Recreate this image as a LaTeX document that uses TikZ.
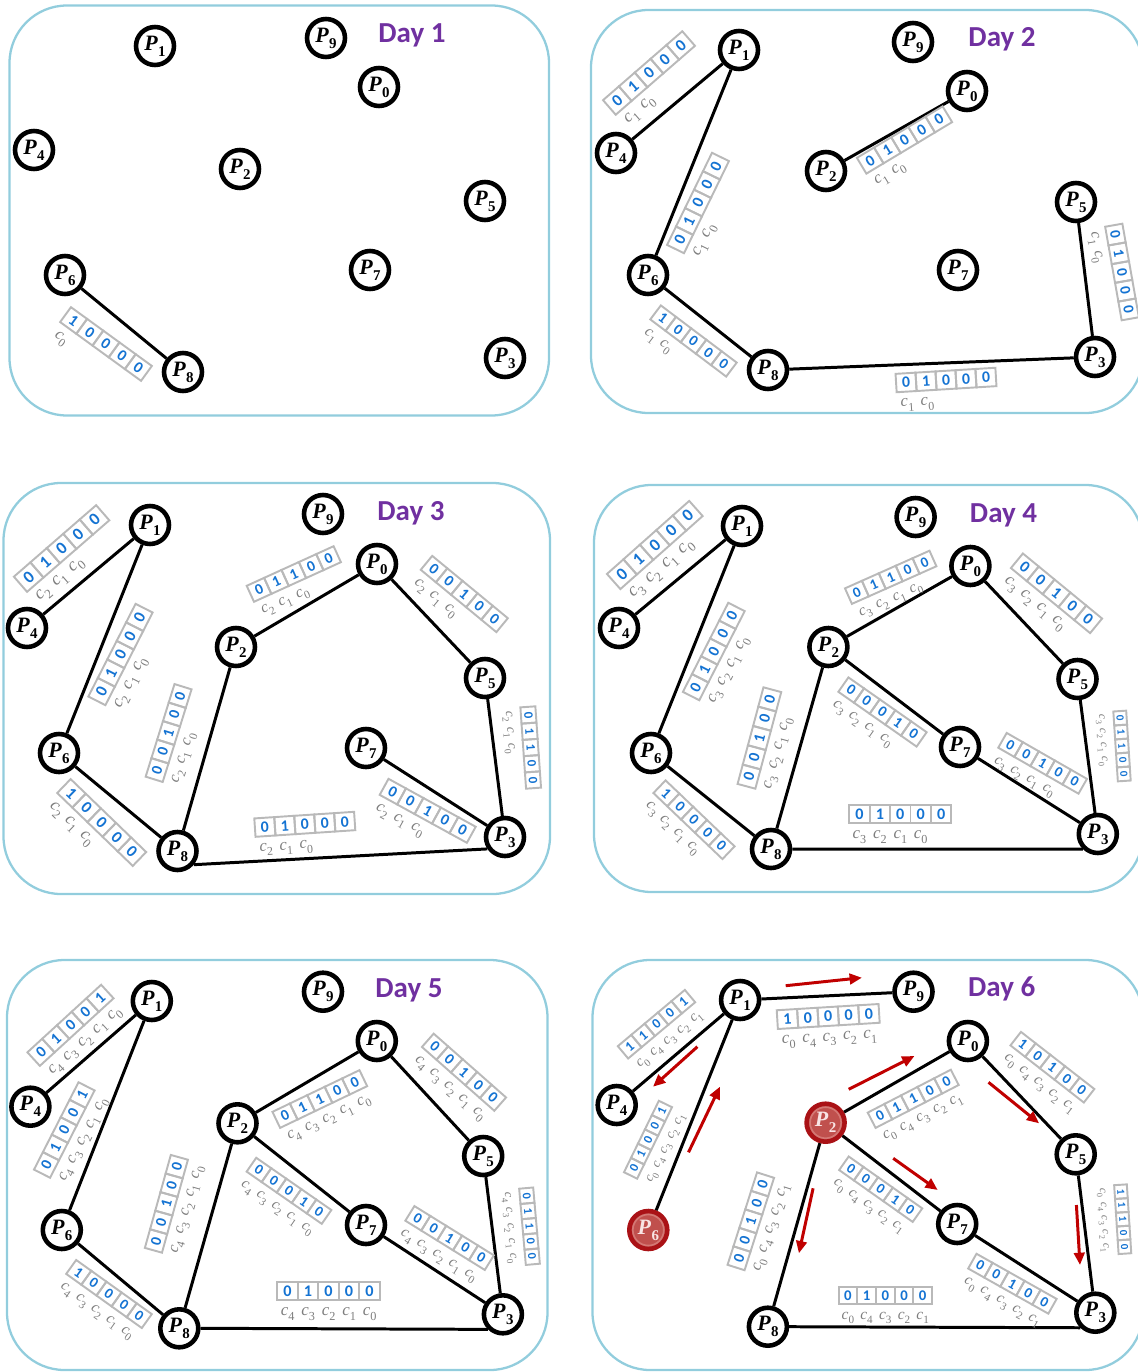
\documentclass[tikz,border=0pt]{standalone}
\usepackage{fontspec}
\newfontfamily\calib{Carlito}
\newfontfamily\camb{Liberation Serif}
\usetikzlibrary{arrows.meta}
\definecolor{panelblue}{RGB}{146,205,221}
\definecolor{daypurple}{RGB}{112,48,160}
\definecolor{bitblue}{RGB}{20,115,210}
\definecolor{cellgray}{RGB}{185,185,185}
\definecolor{labgray}{RGB}{125,125,125}
\definecolor{reddark}{RGB}{170,18,22}
\definecolor{redfill}{RGB}{192,80,77}
\definecolor{redring}{RGB}{212,120,116}
\definecolor{redtext}{RGB}{248,228,228}
\definecolor{arrowred}{RGB}{192,0,0}
\newcommand\pname[1]{{\camb\bfseries\itshape P}\kern0.02em\raisebox{-0.28em}{\fontsize{8.5}{8.5}\selectfont\camb\bfseries #1}}
\newcommand\clab[1]{{\camb\itshape c}\raisebox{-0.3em}{\fontsize{\ssz}{\ssz}\selectfont\camb #1}}
\tikzset{
 panel/.style={draw=panelblue, line width=1.3pt, rounded corners=1.15cm},
 pnode/.style={circle, draw=black, line width=2.6pt, fill=white, minimum size=0.76cm, inner sep=0pt, font=\fontsize{12.5}{12.5}\selectfont},
 rnode/.style={pnode, draw=reddark, fill=redfill, text=redtext},
 redinner/.style={draw=redring, line width=0.9pt},
 link/.style={line width=1.7pt, black},
 daylabel/.style={text=daypurple, font=\calib\bfseries\fontsize{16.5}{16.5}\selectfont},
 bitcell/.style={draw=cellgray, line width=1.1pt},
 bitdigit/.style={text=bitblue, inner sep=0pt, font=\calib\bfseries\fontsize{\bfsz}{\bfsz}\selectfont},
 bitlabel/.style={text=labgray, inner sep=0pt, font=\fontsize{\lsz}{\lsz}\selectfont},
 redarrow/.style={draw=arrowred, line width=1.7pt, -{Triangle[length=7pt,width=6pt]}},
}
% #1 cx, #2 cy, #3 angle, #4 cell (px), #5 digits, #6 label indices
\newcommand\bitarr[6]{%
\begin{scope}[shift={(#1,#2)}, rotate=#3]
 \pgfmathsetmacro\bfsz{0.45*#4}
 \pgfmathsetmacro\lsz{0.47*#4}
 \pgfmathsetmacro\ssz{0.34*#4}
 \foreach \dg [count=\ci] in {#5} {
   \pgfmathsetmacro\xx{(\ci-3)*#4}
   \draw[bitcell] (\xx-#4/2, -#4*0.46) rectangle (\xx+#4/2, #4*0.46);
   \node[bitdigit, transform shape] at (\xx,0) {\dg};
 }
 \foreach \lab [count=\ci] in {#6} {
   \pgfmathsetmacro\xx{(\ci-3)*#4}
   \pgfmathsetmacro\yy{#4*0.46+13.5}
   \node[bitlabel, transform shape] at (\xx,\yy) {\clab{\lab}};
 }
\end{scope}}
\begin{document}
\begin{tikzpicture}[x=0.02cm, y=-0.02cm]
\useasboundingbox (0,0) rectangle (1138,1372);
% ---------------- Panel 1 ----------------
\draw[panel] (9.5,5.5) rectangle (549,415.5);
\node[daylabel] (dayA) at (412,35) {Day 1};
\foreach \n/\x/\y in {1/155/46, 9/326/38, 0/379/87, 4/34/150, 2/240/169, 5/485/201, 6/65/275, 7/370/270, 8/183/372, 3/505/358}
  \node[pnode] (A\n) at (\x,\y) {\pname{\n}};
\draw[link] (A6) -- (A8);
\bitarr{106}{344}{-36}{20}{1,0,0,0,0}{0}
% ---------------- Panel 2 ----------------
\draw[panel] (591,10) rectangle (1143,413);
\node[daylabel] (dayB) at (1002,39) {Day 2};
\foreach \n/\x/\y in {1/739/50, 9/913/42, 0/967/91, 4/616/153, 2/826/171, 5/1076/202, 6/648/275, 7/958/270, 8/768/370, 3/1095/357}
  \node[pnode] (B\n) at (\x,\y) {\pname{\n}};
\draw[link] (B4) -- (B1);
\draw[link] (B1) -- (B6);
\draw[link] (B6) -- (B8);
\draw[link] (B8) -- (B3);
\draw[link] (B3) -- (B5);
\draw[link] (B2) -- (B0);
\bitarr{649}{73}{41}{21}{0,1,0,0,0}{1,0}
\bitarr{698}{203}{64}{20.5}{0,1,0,0,0}{1,0}
\bitarr{693.5}{341}{-37}{19}{1,0,0,0,0}{1,0}
\bitarr{904.5}{140}{31}{20}{0,1,0,0,0}{1,0}
\bitarr{946}{380}{3.5}{20}{0,1,0,0,0}{1,0}
\bitarr{1122}{272}{-80}{19}{0,1,0,0,0}{1,0}
% ---------------- Panel 3 ----------------
\draw[panel] (3.5,483) rectangle (550,894);
\node[daylabel] (dayC) at (411,513) {Day 3};
\foreach \n/\x/\y in {1/150/525, 9/323/514, 0/377/564, 4/27/628, 2/236/647, 5/485/678, 6/59/753, 7/366/748, 8/177.5/851, 3/505/837}
  \node[pnode] (C\n) at (\x,\y) {\pname{\n}};
\draw[link] (C4) -- (C1);
\draw[link] (C1) -- (C6);
\draw[link] (C6) -- (C8);
\draw[link] (C8.-40) -- (C3.-146);
\draw[link] (C3) -- (C5);
\draw[link] (C5) -- (C0);
\draw[link] (C0) -- (C2);
\draw[link] (C2) -- (C8);
\draw[link] (C7) -- (C3);
\bitarr{61.6}{548.5}{41}{21.8}{0,1,0,0,0}{2,1,0}
\bitarr{120.5}{654.5}{63}{20.8}{0,1,0,0,0}{2,1,0}
\bitarr{101.7}{822.5}{-44}{21}{1,0,0,0,0}{2,1,0}
\bitarr{168.6}{733}{72.7}{19.4}{0,0,1,0,0}{2,1,0}
\bitarr{293.8}{574}{24.5}{19.1}{0,1,1,0,0}{2,1,0}
\bitarr{464.3}{594}{-39.5}{19.6}{0,0,1,0,0}{2,1,0}
\bitarr{530.7}{747.5}{-86}{16.3}{0,1,1,0,0}{2,1,0}
\bitarr{427.7}{810.8}{-28.8}{19.9}{0,0,1,0,0}{2,1,0}
\bitarr{304.8}{824.3}{3.8}{20}{0,1,0,0,0}{2,1,0}
% ---------------- Panel 4 ----------------
\draw[panel] (594,485) rectangle (1143,892);
\node[daylabel] (dayD) at (1003.5,515) {Day 4};
\foreach \n/\x/\y in {1/742/526, 9/915.6/517, 0/970.4/566, 4/619/628, 2/828.4/647, 5/1077.5/679, 6/651/753, 7/960/747, 8/771/849, 3/1097.8/834}
  \node[pnode] (D\n) at (\x,\y) {\pname{\n}};
\draw[link] (D4) -- (D1);
\draw[link] (D1) -- (D6);
\draw[link] (D6) -- (D8);
\draw[link] (D8.east) -- (D3.-135);
\draw[link] (D3) -- (D5);
\draw[link] (D5) -- (D0);
\draw[link] (D0) -- (D2);
\draw[link] (D2) -- (D8);
\draw[link] (D2) -- (D7);
\draw[link] (D7) -- (D3);
\bitarr{654.8}{545}{41.6}{22}{0,1,0,0,0}{3,2,1,0}
\bitarr{713.8}{651.5}{63}{20}{0,1,0,0,0}{3,2,1,0}
\bitarr{694}{819.7}{-43.7}{19.1}{1,0,0,0,0}{3,2,1,0}
\bitarr{759.4}{738}{75}{20}{0,0,1,0,0}{3,2,1,0}
\bitarr{890.7}{577.3}{24}{18.5}{0,1,1,0,0}{3,2,1,0}
\bitarr{1056.5}{593.3}{-39.4}{20.5}{0,0,1,0,0}{3,2,1,0}
\bitarr{882.5}{712}{-35}{19.1}{0,0,0,1,0}{3,2,1,0}
\bitarr{1042.6}{763.3}{-29.8}{18.5}{0,0,1,0,0}{3,2,1,0}
\bitarr{1122}{746}{-86.3}{14}{0,1,1,0,0}{3,2,1,0}
\bitarr{900.3}{814}{0}{20.4}{0,1,0,0,0}{3,2,1,0}
% ---------------- Panel 5 ----------------
\draw[panel] (7,960) rectangle (547.5,1370);
\node[daylabel] (dayE) at (409,990) {Day 5};
\foreach \n/\x/\y in {1/151.8/1001, 9/323/991.7, 0/376.8/1041, 4/30.4/1106.7, 2/237.5/1123.3, 5/483.2/1156, 6/61.8/1230, 7/366/1225, 8/179.3/1328.3, 3/502.9/1314.3}
  \node[pnode] (E\n) at (\x,\y) {\pname{\n}};
\draw[link] (E4) -- (E1);
\draw[link] (E1) -- (E6);
\draw[link] (E6) -- (E8);
\draw[link] (E8.east) -- (E3.-135);
\draw[link] (E3) -- (E5);
\draw[link] (E5) -- (E0);
\draw[link] (E0) -- (E2);
\draw[link] (E2) -- (E8);
\draw[link] (E2) -- (E7);
\draw[link] (E7) -- (E3);
\bitarr{70.5}{1025.3}{42.5}{20}{0,1,0,0,1}{4,3,2,1,0}
\bitarr{64.3}{1130}{63}{19.6}{0,1,0,0,1}{4,3,2,1,0}
\bitarr{109}{1294}{-35.6}{18.6}{1,0,0,0,0}{4,3,2,1,0}
\bitarr{166.4}{1203.8}{74.4}{19.3}{0,0,1,0,0}{4,3,2,1,0}
\bitarr{319.8}{1099}{25.6}{19.3}{0,1,1,0,0}{4,3,2,1,0}
\bitarr{464}{1072.2}{-41.4}{19.3}{0,0,1,0,0}{4,3,2,1,0}
\bitarr{289}{1190.8}{-34.8}{18.3}{0,0,0,1,0}{4,3,2,1,0}
\bitarr{449.6}{1238}{-31.8}{18.7}{0,0,1,0,0}{4,3,2,1,0}
\bitarr{529.5}{1226.2}{-85}{15.3}{0,1,1,0,0}{4,3,2,1,0}
\bitarr{328.6}{1291}{0}{20.5}{0,1,0,0,0}{4,3,2,1,0}
% ---------------- Panel 6 ----------------
\draw[panel] (592.5,960) rectangle (1143,1370);
\node[daylabel] (dayF) at (1001.7,989.3) {Day 6};
\foreach \n/\x/\y in {1/740.1/1000, 9/913.5/991.7, 0/967.9/1041, 4/616.7/1105, 5/1075.7/1154.3, 7/957.2/1224, 8/767.9/1326.7, 3/1095.3/1312.7}
  \node[pnode] (F\n) at (\x,\y) {\pname{\n}};
\node[rnode] (F2) at (825.6,1122.7) {};
\node[rnode] (F6) at (648.3,1230) {};
\draw[redinner] (F2.center) circle (15.5);
\draw[redinner] (F6.center) circle (15.5);
\node[text=redtext, inner sep=0pt, font=\fontsize{12.5}{12.5}\selectfont] (F2t) at (F2.center) {\pname{2}};
\node[text=redtext, inner sep=0pt, font=\fontsize{12.5}{12.5}\selectfont] (F6t) at (F6.center) {\pname{6}};
\draw[link] (F4) -- (F1);
\draw[link] (F1) -- (F6);
\draw[link] (F1) -- (F9);
\draw[link] (F2) -- (F0);
\draw[link] (F0) -- (F5);
\draw[link] (F5) -- (F3);
\draw[link] (F3) -- (F7);
\draw[link] (F7) -- (F2);
\draw[link] (F2) -- (F8);
\draw[link] (F8.east) -- (F3.-135);
\bitarr{656.5}{1024.2}{40}{17.5}{1,1,0,0,1}{0,4,3,2,1}
\bitarr{648}{1139.7}{64}{15.9}{0,1,0,0,1}{0,4,3,2,1}
\bitarr{828.2}{1016.5}{3.5}{20.4}{1,0,0,0,0}{0,4,3,2,1}
\bitarr{913.2}{1098.8}{27.3}{18.7}{0,1,1,0,0}{0,4,3,2,1}
\bitarr{1052.4}{1067.2}{-37.9}{18.6}{1,0,1,0,0}{0,4,3,2,1}
\bitarr{880.7}{1189.2}{-35.2}{18}{0,0,0,1,0}{0,4,3,2,1}
\bitarr{750.8}{1221.3}{72.3}{19.4}{0,0,1,0,0}{0,4,3,2,1}
\bitarr{1012.4}{1283.7}{-29.4}{18.4}{0,0,1,0,0}{0,4,3,2,1}
\bitarr{1122.7}{1219.2}{-86.3}{13.8}{1,1,1,0,0}{0,4,3,2,1}
\bitarr{885.3}{1295.7}{0}{18.7}{0,1,0,0,0}{0,4,3,2,1}
% red arrows
\coordinate (r1s) at (785.7,985.7);   \coordinate (r1e) at (861.9,977.7);
\coordinate (r2s) at (697.4,1046.7);  \coordinate (r2e) at (653,1086.7);
\coordinate (r3s) at (688.5,1152.3);  \coordinate (r3e) at (719.9,1086.7);
\coordinate (r4s) at (848.7,1089.3);  \coordinate (r4e) at (914.5,1056);
\coordinate (r5s) at (988.5,1082.3);  \coordinate (r5e) at (1039.1,1123.3);
\coordinate (r6s) at (893.2,1158.3);  \coordinate (r6e) at (937.7,1190);
\coordinate (r7s) at (813.1,1188.3);  \coordinate (r7e) at (798.9,1253.3);
\coordinate (r8s) at (1076.4,1205);   \coordinate (r8e) at (1080,1265);
\foreach \k in {1,...,8} \draw[redarrow] (r\k s) -- (r\k e);
\end{tikzpicture}
\end{document}
